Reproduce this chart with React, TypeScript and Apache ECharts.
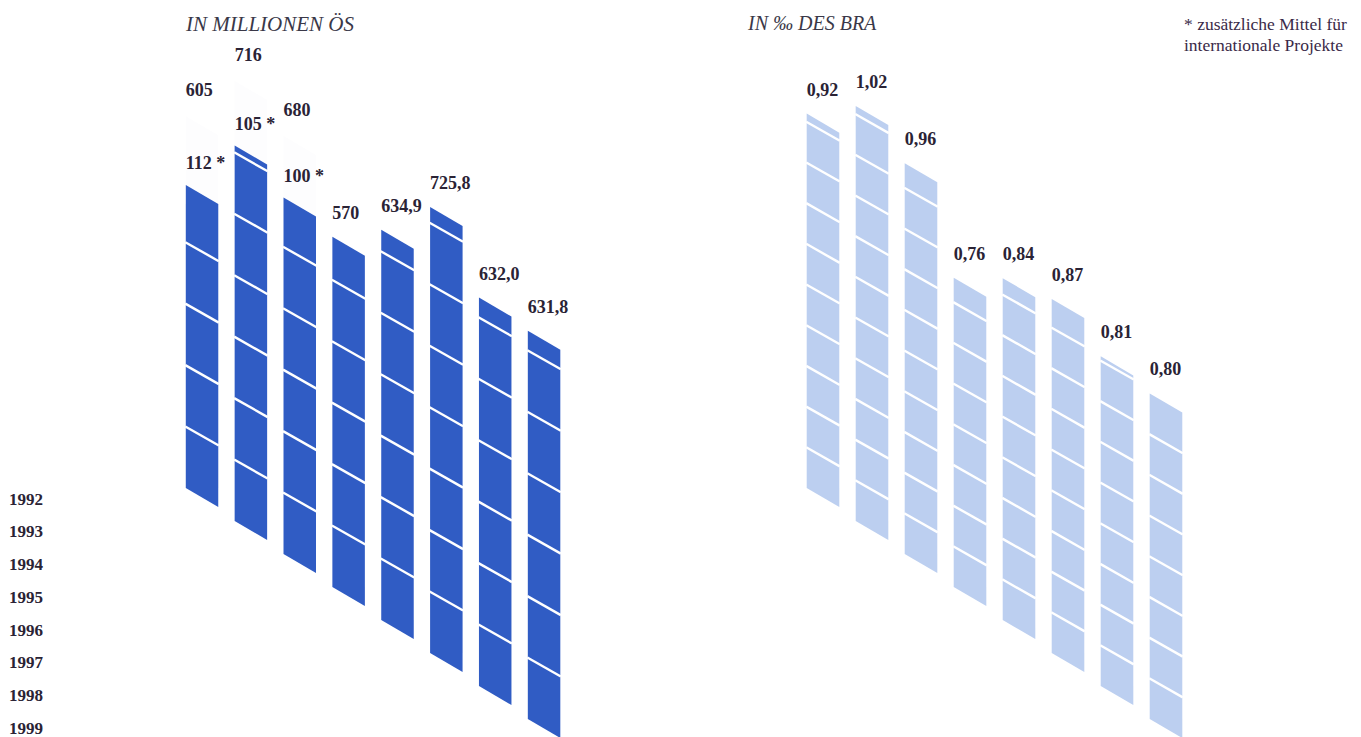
import React, { useEffect, useRef } from "react";
import * as echarts from "echarts";

// ---- data ----
const years = ["1992", "1993", "1994", "1995", "1996", "1997", "1998", "1999"];
// Mio. ÖS: base part (dark) and additional funds for international projects (*)
const msBase = [493, 611, 580, 570, 634.9, 725.8, 632.0, 631.8];
const msExtra = [112, 105, 100, 0, 0, 0, 0, 0];
const msTotalLabels = ["605", "716", "680", "570", "634,9", "725,8", "632,0", "631,8"];
const msExtraLabels = ["112 *", "105 *", "100 *", "", "", "", "", ""];
// ‰ of GDP
const braValues = [0.92, 1.02, 0.96, 0.76, 0.84, 0.87, 0.81, 0.8];
const braLabels = ["0,92", "1,02", "0,96", "0,76", "0,84", "0,87", "0,81", "0,80"];

const msStripeStep = 100;
const braStripeStep = 0.1;

// ---- style / layout ----
const SERIF = '"Liberation Serif", "Times New Roman", serif';
const DEPTH = 33; // downward shift per year (perspective)
const BAR_RATIO = 0.665;
const SLANT_RATIO = 0.585;
const DARK = "#305cc4";
const LIGHT = "#bccff0";
const TEXT = "#2a2335";

function makeRender(fill: string, step: number, totals: string[], extras: string[]) {
  return (params: any, api: any) => {
    const i = api.value(0);
    const base = api.value(1);
    const extra = api.value(2) || 0;
    const bw = api.size([1, 0])[0];
    const barW = bw * BAR_RATIO;
    const c0 = api.coord([i, 0]);
    const dy = i * DEPTH;
    const xL = c0[0] - barW / 2;
    const xR = xL + barW;
    const sl = barW * SLANT_RATIO;
    const y0 = c0[1] + dy;
    const yB = api.coord([i, base])[1] + dy;
    const para = (ya: number, yb: number, f: string) => ({
      type: "polygon",
      shape: { points: [[xL, ya], [xR, ya + sl], [xR, yb + sl], [xL, yb]] },
      style: { fill: f },
    });
    const children: any[] = [para(yB, y0, fill)];
    for (let k = 1; k * step < base - 1e-9; k++) {
      const ys = api.coord([i, k * step])[1] + dy;
      children.push({
        type: "line",
        shape: { x1: xL - 0.5, y1: ys, x2: xR + 0.5, y2: ys + sl },
        style: { stroke: "#ffffff", lineWidth: 2.4 },
      });
    }
    const label = (txt: string, y: number) => ({
      type: "text",
      style: {
        text: txt,
        x: xL,
        y,
        fill: TEXT,
        font: `bold 18px ${SERIF}`,
        textAlign: "left",
        textVerticalAlign: "middle",
        align: "left",
        verticalAlign: "middle",
      },
    });
    const idx = params.dataIndex;
    if (extra > 0) {
      const yE = api.coord([i, base + extra])[1] + dy;
      children.push(para(yE, yB, "rgba(60,80,140,0.012)"));
      children.push(label(totals[idx], yE - 26));
      if (extras[idx]) children.push(label(extras[idx], yB - 22));
    } else {
      children.push(label(totals[idx], yB - 24));
    }
    return { type: "group", children };
  };
}

export default function App() {
  const ref = useRef<HTMLDivElement>(null);
  useEffect(() => {
    document.body.style.margin = "0";
    const chart = echarts.init(ref.current!, null, { renderer: "svg" });
    const idx = years.map((_, i) => i);
    const option: any = {
      animation: false,
      backgroundColor: "#ffffff",
      grid: [
        { left: 177.6, width: 390.9, top: 2.5, height: 485.5 },
        { left: 798.5, width: 392, top: 3.7, height: 484.3 },
        { left: 60, width: 10, top: 499, height: 231 },
      ],
      xAxis: [
        { type: "category", gridIndex: 0, data: years, show: false },
        { type: "category", gridIndex: 1, data: years, show: false },
        { type: "value", gridIndex: 2, show: false },
      ],
      yAxis: [
        { type: "value", gridIndex: 0, min: 0, max: 790, show: false },
        { type: "value", gridIndex: 1, min: 0, max: 1.19, show: false },
        {
          type: "category",
          gridIndex: 2,
          data: years,
          inverse: true,
          boundaryGap: false,
          axisLine: { show: false },
          axisTick: { show: false },
          splitLine: { show: false },
          axisLabel: {
            margin: 51,
            align: "left",
            color: TEXT,
            fontFamily: SERIF,
            fontWeight: "bold",
            fontSize: 17,
          },
        },
      ],
      graphic: [
        {
          type: "text",
          left: 186,
          top: 13,
          style: { text: "IN MILLIONEN ÖS", fill: "#3a3848", font: `italic 21px ${SERIF}` },
        },
        {
          type: "text",
          left: 748,
          top: 13,
          style: { text: "IN ‰ DES BRA", fill: "#3a3848", font: `italic 20px ${SERIF}` },
        },
        {
          type: "text",
          left: 1184,
          top: 13,
          style: {
            text: "* zusätzliche Mittel für\ninternationale Projekte",
            fill: "#3a2a48",
            font: `17.5px ${SERIF}`,
            lineHeight: 21,
          },
        },
      ],
      series: [
        {
          type: "custom",
          xAxisIndex: 0,
          yAxisIndex: 0,
          clip: false,
          data: idx.map((i) => [i, msBase[i], msExtra[i]]),
          renderItem: makeRender(DARK, msStripeStep, msTotalLabels, msExtraLabels),
        },
        {
          type: "custom",
          xAxisIndex: 1,
          yAxisIndex: 1,
          clip: false,
          data: idx.map((i) => [i, braValues[i], 0]),
          renderItem: makeRender(LIGHT, braStripeStep, braLabels, []),
        },
      ],
    };
    chart.setOption(option);
    return () => chart.dispose();
  }, []);
  return (
    <div
      ref={ref}
      style={{ position: "fixed", left: 0, top: 0, width: 1361, height: 737 }}
    />
  );
}
